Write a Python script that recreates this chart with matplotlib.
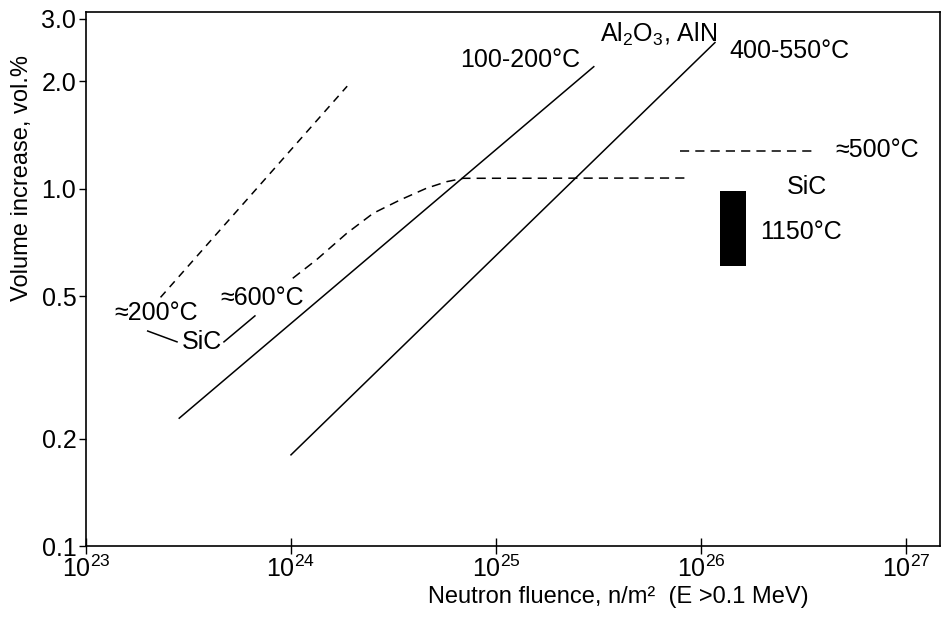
import numpy as np
import matplotlib
matplotlib.use("Agg")
import matplotlib.pyplot as plt
from matplotlib.patches import Rectangle

plt.rcParams['font.family'] = ['Liberation Sans', 'DejaVu Sans']
plt.rcParams['mathtext.default'] = 'regular'

# Al2O3, AlN at 100-200 C (solid)
al_low_x = [2.85e23, 3.0e25]
al_low_y = [0.228, 2.20]
# Al2O3, AlN at 400-550 C (solid)
al_high_x = [1.0e24, 1.17e26]
al_high_y = [0.18, 2.57]
# SiC ~200 C (dashed)
sic200_x = [2.31e23, 1.88e24]
sic200_y = [0.497, 1.94]
# SiC ~600 C (dashed, saturating)
sic600_x = [1.02e24, 1.33e24, 1.87e24, 2.52e24, 3.40e24, 4.59e24, 5.75e24, 6.92e24, 8.77e25]
sic600_y = [0.562, 0.633, 0.751, 0.855, 0.931, 1.005, 1.048, 1.071, 1.073]
# SiC ~500 C (dashed)
sic500_x = [7.91e25, 3.47e26]
sic500_y = [1.278, 1.278]
# SiC 1150 C band
band_x = [1.24e26, 1.66e26]
band_y = [0.61, 0.987]
# leader lines of the left "SiC" label
lead1_x = [2.0e23, 2.78e23]
lead1_y = [0.40, 0.373]
lead2_x = [4.71e23, 6.67e23]
lead2_y = [0.373, 0.441]

xticks = [1e23, 1e24, 1e25, 1e26, 1e27]
yticks = [0.1, 0.2, 0.5, 1.0, 2.0, 3.0]
yticklabels = ['0.1', '0.2', '0.5', '1.0', '2.0', '3.0']

fig = plt.figure(figsize=(9.44, 6.19), dpi=100)
ax = fig.add_axes([86 / 944, 1 - 546 / 619, 854 / 944, 534 / 619])

lw = 1.1
ax.plot(al_low_x, al_low_y, color='black', lw=lw)
ax.plot(al_high_x, al_high_y, color='black', lw=lw)
ax.plot(sic200_x, sic200_y, color='black', lw=lw, dashes=(5, 4))
ax.plot(sic600_x, sic600_y, color='black', lw=lw, dashes=(6, 4))
ax.plot(sic500_x, sic500_y, color='black', lw=lw, dashes=(6, 4))
ax.add_patch(Rectangle((band_x[0], band_y[0]), band_x[1] - band_x[0],
                       band_y[1] - band_y[0], color='black', lw=0))
ax.plot(lead1_x, lead1_y, color='black', lw=lw)
ax.plot(lead2_x, lead2_y, color='black', lw=lw)

ax.set_xscale('log')
ax.set_yscale('log')
ax.set_xlim(1e23, 1.466e27)
ax.set_ylim(0.1, 3.13)
ax.set_xticks(xticks)
ax.set_yticks(yticks)
ax.set_yticklabels(yticklabels)
ax.minorticks_off()
ax.tick_params(axis='x', direction='inout', length=12, width=1, labelsize=18, pad=1)
ax.tick_params(axis='y', direction='out', length=5, width=1, labelsize=18, pad=2)
for s in ax.spines.values():
    s.set_linewidth(1.2)

fs = 18
t = ax.transAxes
ax.text(0.508, 0.910, '100-200°C', transform=t, fontsize=fs, ha='center', va='center')
ax.text(0.670, 0.958, 'Al$_2$O$_3$, AlN', transform=t, fontsize=fs, ha='center', va='center')
ax.text(0.824, 0.927, '400-550°C', transform=t, fontsize=fs, ha='center', va='center')
ax.text(0.926, 0.742, '≈500°C', transform=t, fontsize=fs, ha='center', va='center')
ax.text(0.844, 0.672, 'SiC', transform=t, fontsize=fs, ha='center', va='center')
ax.text(0.837, 0.588, '1150°C', transform=t, fontsize=fs, ha='center', va='center')
ax.text(0.082, 0.436, '≈200°C', transform=t, fontsize=fs, ha='center', va='center')
ax.text(0.206, 0.464, '≈600°C', transform=t, fontsize=fs, ha='center', va='center')
ax.text(0.136, 0.382, 'SiC', transform=t, fontsize=fs, ha='center', va='center')

fig.text(22 / 944, 1 - 178 / 619, 'Volume increase, vol.%', rotation=90,
         fontsize=17, ha='center', va='center')
fig.text(618 / 944, 1 - 597 / 619, 'Neutron fluence, n/m²  (E >0.1 MeV)',
         fontsize=17, ha='center', va='center')

fig.savefig('out.png', dpi=100)
